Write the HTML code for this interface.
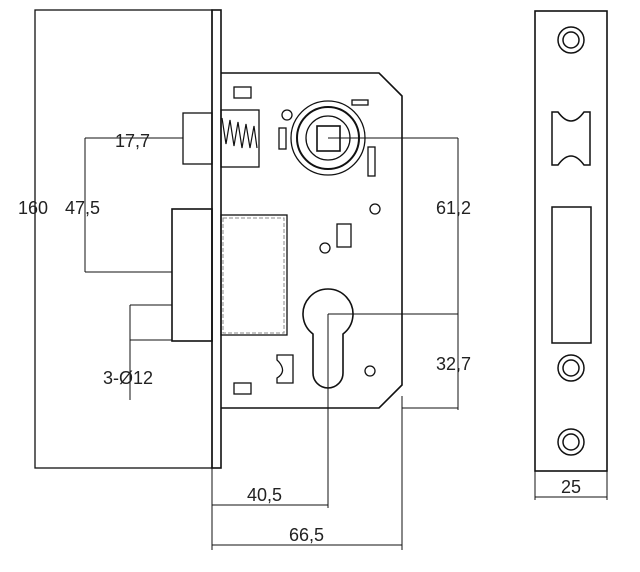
<!DOCTYPE html>
<html><head><style>body{margin:0;background:#fff}svg{display:block}text{font-family:"Liberation Sans",sans-serif;font-size:18px;fill:#222}</style></head><body>
<svg width="640" height="572" viewBox="0 0 640 572" fill="none" stroke="#111" stroke-width="1.3">
<rect x="35" y="10" width="177" height="458"/>
<rect x="212" y="10" width="9" height="458" stroke-width="1.6"/>
<path d="M221 73 H379 L402 96 V385 L379 408 H221" stroke-width="1.6"/>
<rect x="234" y="87" width="17" height="11"/>
<rect x="221" y="110" width="38" height="57"/>
<polyline points="222,118 226,144 230,120 234,146 238,122 242,148 246,124 250,148 254,126 257,148" stroke-width="1.2"/>
<rect x="183" y="113" width="29" height="51"/>
<rect x="172" y="209" width="40" height="132" stroke-width="1.6"/>
<rect x="221" y="215" width="66" height="120"/>
<rect x="223" y="218" width="61" height="115" stroke="#888" stroke-dasharray="4,2" stroke-width="1"/>
<circle cx="328" cy="138" r="37"/><circle cx="328" cy="138" r="31" stroke-width="2"/><circle cx="328" cy="138" r="22"/>
<rect x="317" y="126" width="23" height="25" stroke-width="1.6"/>
<circle cx="287" cy="115" r="5"/>
<rect x="279" y="128" width="7" height="21"/>
<rect x="352" y="100" width="16" height="5"/>
<rect x="368" y="147" width="7" height="29"/>
<circle cx="375" cy="209" r="5"/>
<rect x="337" y="224" width="14" height="23"/>
<circle cx="325" cy="248" r="5"/>
<path d="M313 334 A25 25 0 1 1 343 334 V373 A15 15 0 0 1 313 373 Z" stroke-width="1.6"/>
<circle cx="370" cy="371" r="5"/>
<path d="M277 355 H293 V383 H277 V378 Q287 372 279 362 L277 360 Z"/>
<rect x="234" y="383" width="17" height="11"/>
<g stroke-width="1">
<line x1="85" y1="138" x2="183" y2="138"/><line x1="85" y1="138" x2="85" y2="272"/><line x1="85" y1="272" x2="172" y2="272"/>
<line x1="130" y1="305" x2="172" y2="305"/><line x1="130" y1="340" x2="172" y2="340"/><line x1="130" y1="305" x2="130" y2="400"/>
<line x1="328" y1="138" x2="458" y2="138"/><line x1="458" y1="138" x2="458" y2="410"/><line x1="328" y1="314" x2="458" y2="314"/><line x1="402" y1="408" x2="458" y2="408"/>
<line x1="328" y1="314" x2="328" y2="508"/><line x1="212" y1="468" x2="212" y2="550"/><line x1="402" y1="396" x2="402" y2="550"/>
<line x1="212" y1="505" x2="328" y2="505"/><line x1="212" y1="545" x2="402" y2="545"/>
<line x1="535" y1="471" x2="535" y2="500"/><line x1="607" y1="471" x2="607" y2="500"/><line x1="535" y1="497" x2="607" y2="497"/>
</g>
<rect x="535" y="11" width="72" height="460" stroke-width="1.6"/>
<g stroke-width="1.5">
<circle cx="571" cy="40" r="13"/><circle cx="571" cy="40" r="8"/>
<circle cx="571" cy="368" r="13"/><circle cx="571" cy="368" r="8"/>
<circle cx="571" cy="442" r="13"/><circle cx="571" cy="442" r="8"/>
<path d="M552 112 H558 Q571 130 584 112 H590 V165 H584 Q571 147 558 165 H552 Z"/>
<rect x="552" y="207" width="39" height="136"/>
</g>
<g stroke="none">
<text x="115" y="147">17,7</text>
<text x="18" y="214">160</text><text x="65" y="214">47,5</text>
<text x="103" y="384">3-Ø12</text>
<text x="436" y="214">61,2</text><text x="436" y="370">32,7</text>
<text x="247" y="501">40,5</text><text x="289" y="541">66,5</text>
<text x="561" y="493">25</text>
</g>
</svg></body></html>
